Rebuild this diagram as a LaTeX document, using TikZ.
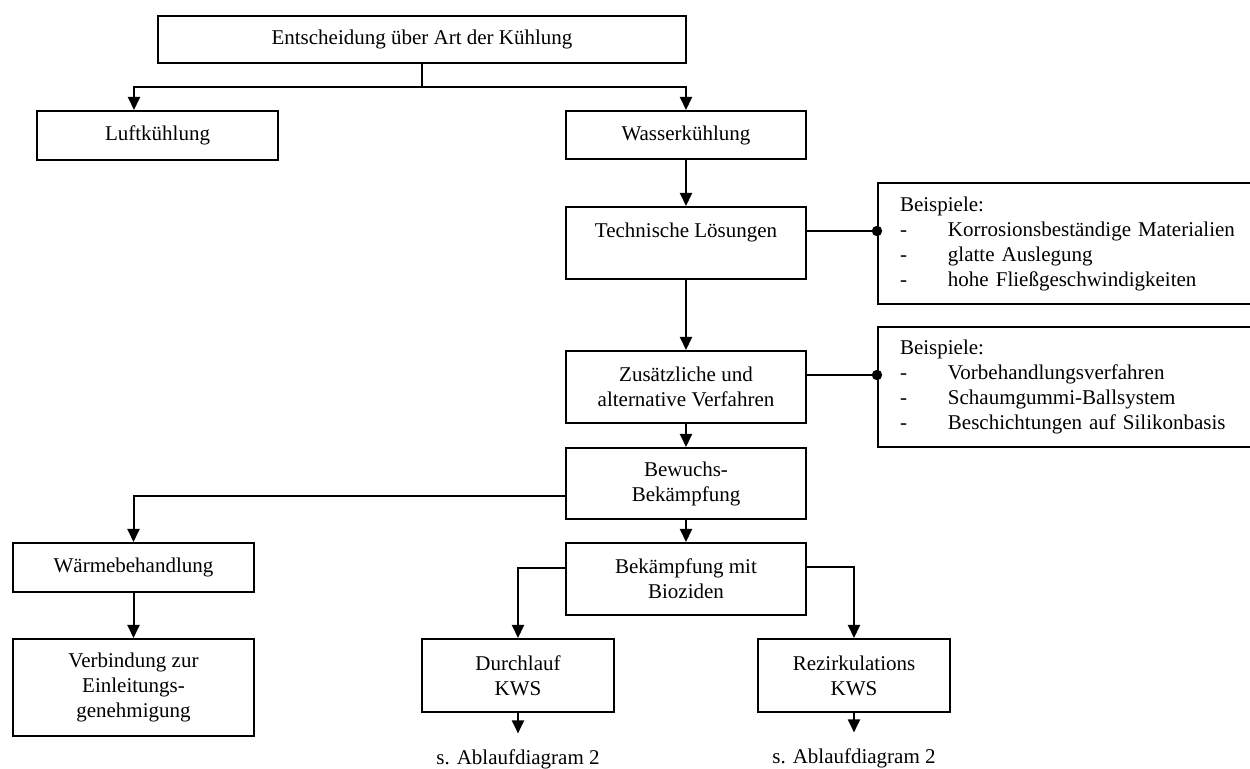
\documentclass[tikz,border=0pt]{standalone}
\usepackage{fontspec}
\setmainfont{Liberation Serif}
\usetikzlibrary{arrows.meta,positioning}
\newcommand{\bspdash}{\makebox[24pt][l]{-}}

\begin{document}
\begin{tikzpicture}[
        x=0.5pt, y=-0.5pt,
        every node/.style={font=\fontsize{10.5}{12.5}\selectfont, inner sep=0pt},
        box/.style={draw, line width=1pt, align=center, minimum width=120pt},
        example/.style={draw, line width=1pt, align=left, anchor=west, text width=170pt, inner xsep=11pt},
        arr/.style={line width=1pt, -{Triangle[width=6pt,length=6.5pt]}},
        line/.style={line width=1pt}
    ]
    \useasboundingbox (0,0) rectangle (1250,769);

    % boxes
    \node[box, minimum width=264pt, minimum height=23.5pt] (top) at (422,39.5) {Entscheidung über Art der Kühlung};
    \node[box, minimum width=120.5pt, minimum height=24.5pt] (luft) at (157.5,135.5) {Luftkühlung};
    \node[box, minimum height=24pt] (wasser) at (686,135) {Wasserkühlung};
    \node[box, minimum height=36pt] (tech) at (686,243) {Technische Lösungen\\\mbox{}};
    \node[box, minimum height=36pt] (zus) at (686,387) {Zusätzliche und\\alternative Verfahren};
    \node[box, minimum height=35.5pt] (bew) at (686,483.5) {Bewuchs-\\Bekämpfung};
    \node[box, minimum height=36pt] (biozid) at (686,579) {Bekämpfung mit\\Bioziden};
    \node[box, minimum width=120.5pt, minimum height=24.5pt] (waerme) at (133.5,567.5) {Wärmebehandlung};
    \node[box, minimum width=120.5pt, minimum height=48.5pt] (verb) at (133.5,687.5) {Verbindung zur\\Einleitungs-\\genehmigung};
    \node[box, minimum width=96pt, minimum height=36.5pt] (durch) at (518,675.5) {Durchlauf\\KWS};
    \node[box, minimum width=96pt, minimum height=36.5pt] (rezirk) at (854,675.5) {Rezirkulations\\KWS};
    \node (abl1) at (518,759) {s. Ablaufdiagram 2};
    \node (abl2) at (854,758) {s. Ablaufdiagram 2};

    % examples
    \node[example, minimum height=60.5pt] (bsp1) at (877,243.5) {Beispiele:\\\bspdash Korrosionsbeständige Materialien\\\bspdash glatte Auslegung\\\bspdash hohe Fließgeschwindigkeiten};
    \node[example, minimum height=60pt] (bsp2) at (877,387) {Beispiele:\\\bspdash Vorbehandlungsverfahren\\\bspdash Schaumgummi-Ballsystem\\\bspdash Beschichtungen auf Silikonbasis};

    % connectors
    \coordinate (split) at (422,87);
    \draw[line] (top.south) -- (split);
    \draw[arr] (split) -| ([xshift=-11.75pt]luft.north);
    \draw[arr] (split) -| (wasser.north);
    \draw[arr] (wasser.south) -- (tech.north);
    \draw[arr] (tech.south) -- (zus.north);
    \draw[arr] (zus.south) -- (bew.north);
    \draw[arr] (bew.south) -- (biozid.north);
    \draw[arr] ([yshift=-6.25pt]bew.west) -| (waerme.north);
    \draw[arr] (waerme.south) -- (verb.north);
    \draw[arr] ([yshift=5.5pt]biozid.west) -| (durch.north);
    \draw[arr] ([yshift=6pt]biozid.east) -| (rezirk.north);
    \draw[arr, shorten >=7.75pt] (durch.south) -- (abl1.north);
    \draw[arr, shorten >=7.75pt] (rezirk.south) -- (abl2.north);
    \draw[line] ([yshift=6pt]tech.east) -- ([yshift=6pt]tech.east -| bsp1.west) coordinate (dot1);
    \fill (dot1) circle (2.6pt);
    \draw[line] ([yshift=6pt]zus.east) -- ([yshift=6pt]zus.east -| bsp2.west) coordinate (dot2);
    \fill (dot2) circle (2.6pt);
\end{tikzpicture}
\end{document}
